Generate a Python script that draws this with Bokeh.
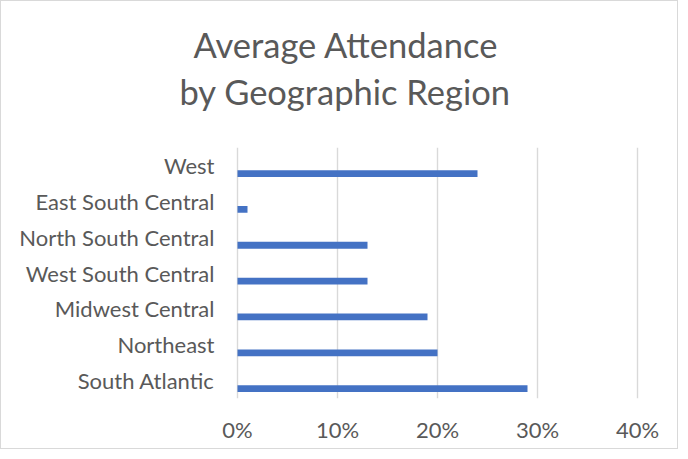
from bokeh.plotting import figure
from bokeh.models import FactorRange, Range1d, FixedTicker, NumeralTickFormatter, Title, ColumnDataSource
from bokeh.transform import dodge
from bokeh.embed import file_html
from bokeh.resources import INLINE

regions = ["South Atlantic", "Northeast", "Midwest Central", "West South Central",
           "North South Central", "East South Central", "West"]
attendance = [0.29, 0.20, 0.19, 0.13, 0.13, 0.01, 0.24]
x_ticks = [0.0, 0.1, 0.2, 0.3, 0.4]
title_lines = ["Average Attendance", "by Geographic Region"]

FONT = "Lato"
TXT = "#595959"

src = ColumnDataSource(data=dict(region=regions, value=attendance))

p = figure(width=678, height=449, output_backend="svg", toolbar_location=None,
           y_range=FactorRange(factors=regions, range_padding=0),
           x_range=Range1d(-0.002, 0.402),
           min_border_left=234, min_border_right=40, min_border_top=146, min_border_bottom=52)
p.styles = {"border": "1px solid #d9d9d9"}
p.outline_line_color = None
p.background_fill_color = "white"
p.border_fill_color = "white"

p.hbar(y=dodge("region", -0.226, range=p.y_range), right="value", left=0, height=0.19,
       source=src, fill_color="#4472C4", line_color=None)

p.xaxis.ticker = FixedTicker(ticks=x_ticks)
p.xaxis.formatter = NumeralTickFormatter(format="0%")
p.xaxis.axis_line_color = None
p.xaxis.major_tick_line_color = None
p.xaxis.minor_tick_line_color = None
p.xaxis.major_label_standoff = 11
p.xaxis.major_label_text_font = FONT
p.xaxis.major_label_text_font_size = "22px"
p.xaxis.major_label_text_color = TXT

p.yaxis.axis_line_color = None
p.yaxis.major_tick_line_color = None
p.yaxis.major_label_standoff = 15
p.yaxis.major_label_text_font = FONT
p.yaxis.major_label_text_font_size = "22px"
p.yaxis.major_label_text_color = TXT

p.xgrid.grid_line_color = "#d9d9d9"
p.xgrid.grid_line_width = 1.4
p.ygrid.grid_line_color = None

# spacer between frame and title block
p.add_layout(Title(text=" ", align="left", standoff=31, text_font=FONT,
                   text_font_size="1px", text_color="white"), "above")
p.add_layout(Title(text=title_lines[1], align="left", offset=-56, standoff=4,
                   text_font=FONT, text_font_size="34.5px", text_font_style="normal",
                   text_color=TXT), "above")
p.add_layout(Title(text=title_lines[0], align="left", offset=-42, standoff=3,
                   text_font=FONT, text_font_size="34.5px", text_font_style="normal",
                   text_color=TXT), "above")

open("out.html", "w").write(file_html(p, INLINE))
